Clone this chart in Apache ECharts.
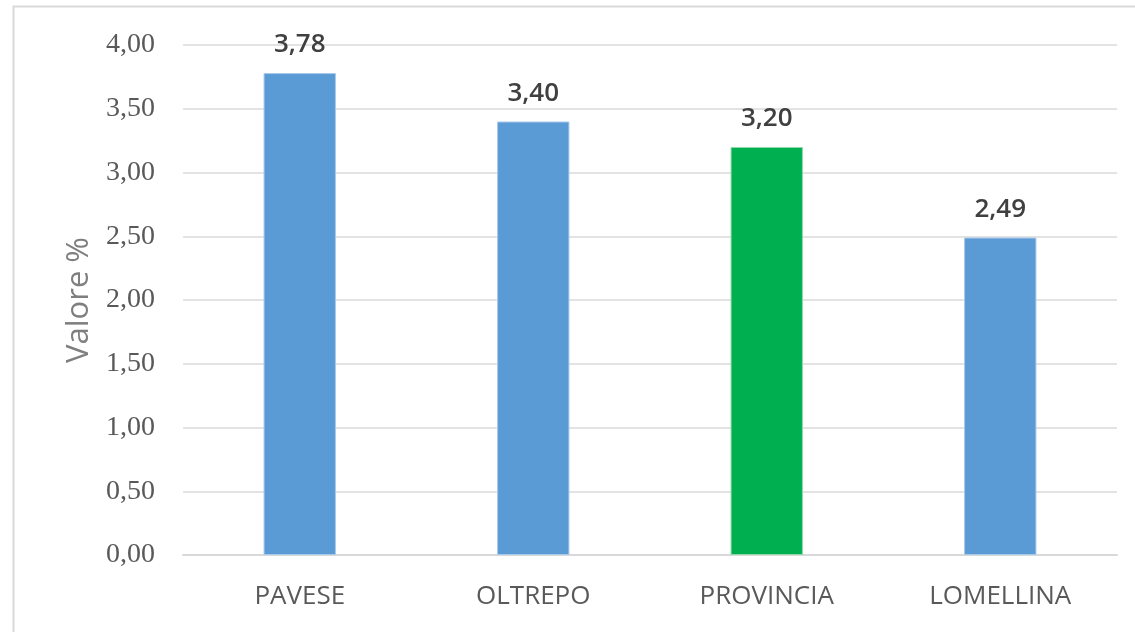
<!DOCTYPE html>
<html>
<head>
<meta charset="utf-8">
<script src="https://cdn.jsdelivr.net/npm/echarts@6/dist/echarts.min.js"></script>
<style>
html,body{margin:0;padding:0;background:#fff;}
#main{width:1135px;height:632px;}
</style>
</head>
<body>
<div id="main"></div>
<script>
var categories = ['PAVESE', 'OLTREPO', 'PROVINCIA', 'LOMELLINA'];
var values = [3.78, 3.40, 3.20, 2.49];
var barColors = ['#5B9BD5', '#5B9BD5', '#00B050', '#5B9BD5'];
var yTicks = [0, 0.5, 1, 1.5, 2, 2.5, 3, 3.5, 4];

function comma(v){
	return v.toFixed(2).replace('.', ',');
}

var myChart = echarts.init(document.getElementById('main'));
var barData = [];
for(var i = 0; i < values.length; i++){
	barData.push({
		value: values[i],
		itemStyle: {color: barColors[i], borderColor: i == 2 ? '#8fd9ab' : '#a9c9ea', borderWidth: 1}
	});
}
var option = {
	backgroundColor: '#fff',
	animation: false,
	graphic: [{
		type: 'rect',
		shape: {x: 13.5, y: 6.5, width: 1140, height: 640},
		style: {fill: 'none', stroke: '#d9d9d9', lineWidth: 2}
	}],
	grid: {left: 183, right: 18, top: 45, bottom: 77},
	xAxis: {
		type: 'category',
		data: categories,
		axisLine: {lineStyle: {color: '#d9d9d9', width: 2}},
		axisTick: {show: false},
		axisLabel: {color: '#595959', fontSize: 26, fontFamily: 'Open Sans', margin: 29}
	},
	yAxis: {
		type: 'value',
		min: yTicks[0],
		max: yTicks[yTicks.length - 1],
		interval: 0.5,
		name: 'Valore %',
		nameLocation: 'middle',
		nameGap: 88,
		nameTextStyle: {color: '#7f7f7f', fontSize: 31, fontFamily: 'Open Sans'},
		axisLine: {show: false},
		axisTick: {show: false},
		splitLine: {lineStyle: {color: '#e3e3e3', width: 2}},
		axisLabel: {
			color: '#595959', fontSize: 28, fontFamily: 'Liberation Serif', margin: 28,
			formatter: function(v){ return comma(v); }
		}
	},
	series: [{
		type: 'bar',
		data: barData,
		barWidth: '31%',
		label: {
			show: true,
			position: 'top',
			distance: 15,
			color: '#404040',
			fontSize: 26,
			fontFamily: 'Open Sans',
			fontWeight: 600,
			formatter: function(p){ return comma(p.value); }
		}
	}]
};
myChart.setOption(option);
</script>
</body>
</html>
